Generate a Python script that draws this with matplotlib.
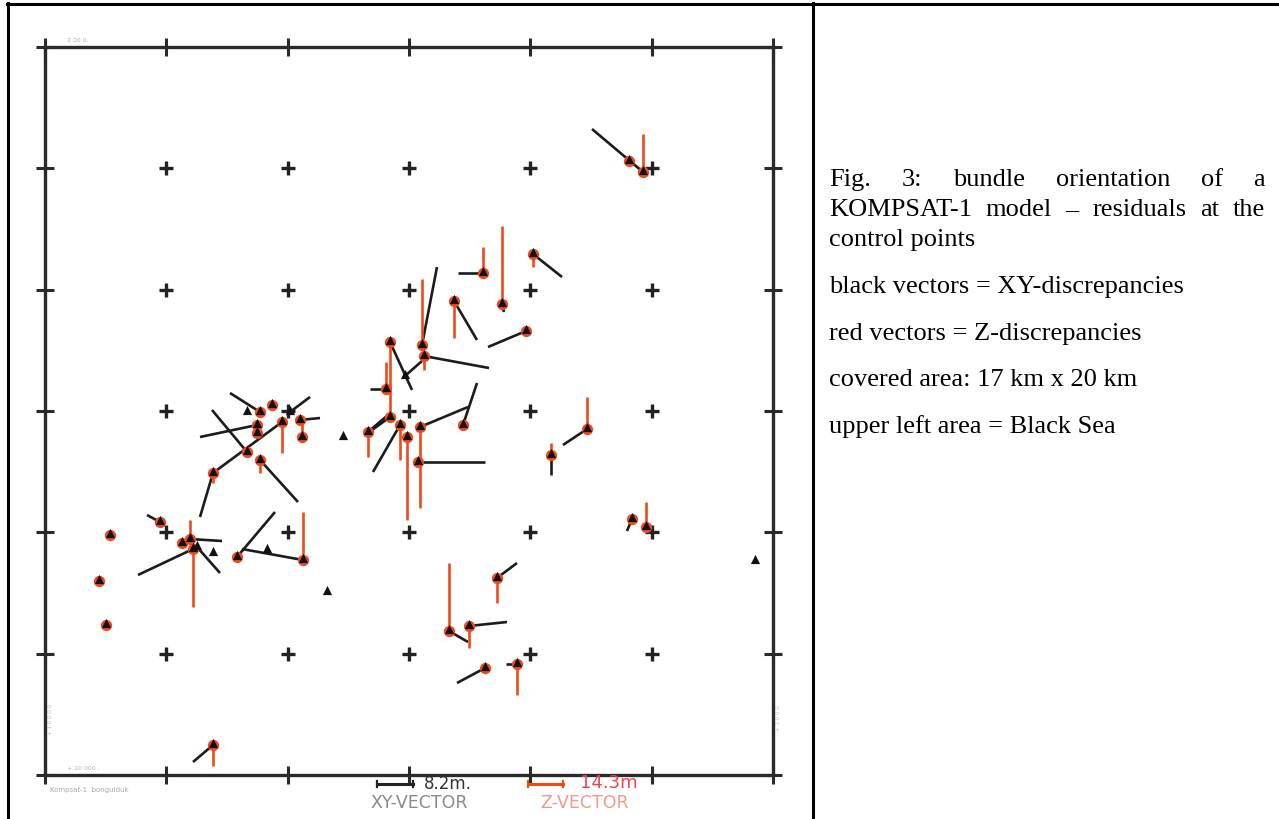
import numpy as np
import matplotlib.pyplot as plt
from matplotlib.lines import Line2D

# control points in map units (grid cell ~121.3 units)
east = [598, 584, 438, 457, 488, 409, 481, 377, 379, 345, 341, 360, 345, 355,
        362, 323, 298, 375, 418, 373, 542, 506, 587, 601, 710, 452, 404, 424,
        440, 472, 168, 54, 61, 282, 65, 115, 137, 145, 148, 168, 152, 192,
        222, 258, 168, 202, 215, 237, 255, 257, 215, 227, 202, 212, 245, 212]
north = [603, 614, 502, 471, 521, 474, 444, 430, 419, 433, 386, 399, 358, 350,
         338, 343, 338, 348, 350, 313, 346, 320, 256, 248, 214, 197, 144, 149,
         107, 111, 30, 194, 150, 183, 240, 253, 232, 236, 226, 222, 228, 218,
         225, 215, 302, 323, 315, 353, 355, 338, 363, 370, 363, 350, 363, 342]
# XY residual vectors (black)
xy_dx = [-51, 0, -25, 2, 29, 23, -38, 15, 65, 22, -16, 17, -18, -27,
         0, 20, 0, 48, 14, 67, -24, 0, -5, 0, 0, 20, 19, 38,
         -28, -11, -20, 0, 0, 0, 0, -13, 0, 32, -55, 0, 23, 38,
         0, -61, -13, -35, 38, -69, 20, 0, -30, 0, 0, -57, 20, 0]
xy_dy = [43, 0, 0, -8, -23, -39, -16, 78, -12, -48, 0, 15, -13, -47,
         0, 17, 0, 20, 42, 0, -16, -20, -12, 0, 0, 15, -11, 4,
         -15, 0, -17, 0, 0, 0, 0, 7, 0, -2, -26, 0, -26, 45,
         0, 11, -44, 42, -42, -51, 2, 0, 19, 0, 0, -12, 15, 0]
# Z residual vectors (red, vertical)
z_d = [38, 0, 26, 78, -13, -37, 0, 66, -14, 0, 27, 0, 75, -35,
       -83, -25, 0, -81, 0, 0, 32, 12, 0, 25, 0, -25, 68, -22,
       0, -31, -21, 0, 0, 0, 0, 0, 0, 19, -58, 0, 0, 0,
       0, 48, -10, 0, -13, -31, 0, 17, 0, 0, 0, 0, 0, 0]
ringed = [1, 1, 1, 1, 1, 1, 1, 1, 1, 1, 1, 0, 1, 1,
          1, 1, 0, 1, 1, 1, 1, 1, 1, 1, 0, 1, 1, 1,
          1, 1, 1, 1, 1, 0, 1, 1, 1, 1, 1, 0, 0, 1,
          0, 1, 1, 1, 1, 1, 1, 1, 1, 1, 0, 1, 0, 1]

caption_1 = ['Fig.', '3:', 'bundle', 'orientation', 'of', 'a']
caption_2 = ['KOMPSAT-1', 'model', '–', 'residuals', 'at', 'the']
caption_rest = ['control points', 'black vectors = XY-discrepancies',
                'red vectors = Z-discrepancies', 'covered area: 17 km x 20 km',
                'upper left area = Black Sea']

W, H = 1279, 820
fig = plt.figure(figsize=(W / 100, H / 100), dpi=100)

# table borders
for xs, ys in [([7, W], [4.5, 4.5]), ([8, 8], [4, H]), ([813, 813], [4, H])]:
    fig.add_artist(Line2D([x / W for x in xs], [1 - y / H for y in ys],
                          transform=fig.transFigure, color='black', lw=2.2))

ax = fig.add_axes([45 / W, 1 - 776 / H, 728 / W, 728 / H])
ax.set_xlim(0, 728)
ax.set_ylim(0, 728)
grid = np.linspace(0, 728, 7)
ax.set_xticks(grid)
ax.set_yticks(grid)
ax.tick_params(direction='inout', length=13, width=2.2, color='#2a2a2a',
               labelbottom=False, labelleft=False, top=True, right=True)
for s in ax.spines.values():
    s.set_linewidth(2.4)
    s.set_color('#2a2a2a')

gx, gy = np.meshgrid(grid[1:-1], grid[1:-1])
ax.plot(gx.ravel(), gy.ravel(), '+', color='#222222', ms=10.5, mew=2.4, zorder=1)

for e, n, dx, dy, dz in zip(east, north, xy_dx, xy_dy, z_d):
    if dx or dy:
        ax.plot([e, e + dx], [n, n + dy], color='#1c1c1c', lw=1.9,
                solid_capstyle='butt', zorder=2)
    if dz:
        ax.plot([e, e], [n, n + dz], color='#f04a1c', lw=1.9,
                solid_capstyle='butt', zorder=2)

east_a = np.array(east)
north_a = np.array(north)
mask = np.array(ringed) == 1
ax.scatter(east_a[mask], north_a[mask], s=66, color='#ee4a1e', lw=0, zorder=3)
ax.scatter(east_a, north_a + 2, s=44, marker='^', color='#111111', lw=0, zorder=4)

# scale bars under the frame
ax.plot([332, 368], [-9, -9], color='#222222', lw=2.2, clip_on=False)
ax.plot([332, 332], [-12, -6], color='#222222', lw=1.6, clip_on=False)
ax.plot([368, 368], [-12, -6], color='#222222', lw=1.6, clip_on=False)
ax.text(379, -8, '8.2m.', fontsize=12, color='#333333', va='center', clip_on=False)
ax.text(374, -27, 'XY-VECTOR', fontsize=12.5, color='#8a8a8a', ha='center',
        va='center', clip_on=False)
ax.plot([483, 518], [-9, -9], color='#f04a1c', lw=2.2, clip_on=False)
ax.plot([483, 483], [-12, -6], color='#f04a1c', lw=1.6, clip_on=False)
ax.plot([518, 518], [-12, -6], color='#f04a1c', lw=1.6, clip_on=False)
ax.text(535, -7, '14.3m', fontsize=13, color='#e8474e', va='center', clip_on=False)
ax.text(540, -27, 'Z-VECTOR', fontsize=12.5, color='#f29a88', ha='center',
        va='center', clip_on=False)

# faint plotter annotations
ax.text(22, 734, '2 00 0.', fontsize=4.5, color='#b0b0b0', clip_on=False)
ax.text(22, 6, '+ 10 000 .', fontsize=4.5, color='#b0b0b0', clip_on=False)
ax.text(5, -16, 'Kompsat-1  bongulduk', fontsize=5, color='#a8a8a8', clip_on=False)
ax.text(6, 56, '+ 1 0 0 0 0', fontsize=4, color='#b8b8b8', rotation=90,
        ha='center', va='center', clip_on=False)
ax.text(733, 58, '+ 1 0 0 0', fontsize=4, color='#b8b8b8', rotation=90,
        ha='center', va='center', clip_on=False)

# caption on the right; first two lines justified between 829 and 1265 px
serif = 'Liberation Serif'
left_px, right_px = 829, 1265
renderer = fig.canvas.get_renderer()
for words, base in [(caption_1, 186), (caption_2, 216)]:
    texts = [fig.text(0, 1 - base / H, w, family=serif, fontsize=19,
                      va='baseline', ha='left') for w in words]
    widths = [t.get_window_extent(renderer).width for t in texts]
    gap = (right_px - left_px - sum(widths)) / (len(words) - 1)
    x = left_px
    for t, w in zip(texts, widths):
        t.set_x(x / W)
        x += w + gap
for line, base in zip(caption_rest, [246, 293, 340, 386, 433]):
    fig.text(left_px / W, 1 - base / H, line, family=serif, fontsize=19,
             va='baseline', ha='left')

fig.savefig('out.png', dpi=100)
